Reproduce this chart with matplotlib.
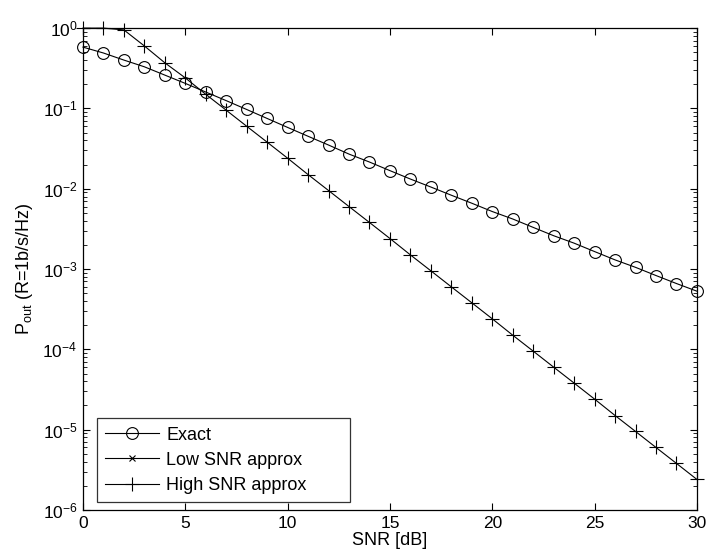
import numpy as np
import matplotlib
matplotlib.use("Agg")
import matplotlib.pyplot as plt
from matplotlib.ticker import LogLocator, FixedLocator

plt.rcParams['font.family'] = ['Liberation Sans', 'DejaVu Sans']
plt.rcParams['mathtext.fontset'] = 'custom'
plt.rcParams['mathtext.rm'] = 'Liberation Sans'
plt.rcParams['mathtext.it'] = 'Liberation Sans:italic'
plt.rcParams['mathtext.bf'] = 'Liberation Sans:bold'

snr_db = list(range(0, 31))
exact = [0.58, 0.49, 0.40, 0.33, 0.26, 0.205, 0.16, 0.125, 0.097, 0.075,
         0.058, 0.045, 0.035, 0.027, 0.0215, 0.0168, 0.0132, 0.0105, 0.0083,
         0.0066, 0.0052, 0.0042, 0.0033, 0.0026, 0.0021, 0.00165, 0.0013,
         0.00105, 0.00083, 0.00066, 0.00053]
low_snr_x = []
low_snr = []
high_snr = [1.0, 1.0, 0.95, 0.6, 0.37, 0.24, 0.15, 0.095, 0.06, 0.038,
            0.024, 0.015, 0.0095, 0.006, 0.0038, 0.0024, 0.0015, 0.00095,
            0.0006, 0.00038, 0.00024, 0.00015, 9.5e-5, 6.0e-5, 3.8e-5,
            2.4e-5, 1.5e-5, 9.5e-6, 6.0e-6, 3.8e-6, 2.4e-6]

fig = plt.figure(figsize=(7.09, 5.59), dpi=100)
ax = fig.add_axes([0.117, 0.0877, 0.866, 0.862])

fs = 13
lw = 0.8
ax.semilogy(snr_db, exact, color='black', lw=lw, marker='o', markersize=8.5,
            markerfacecolor='none', markeredgewidth=0.8, label='Exact', clip_on=False)
ax.semilogy(low_snr_x, low_snr, color='black', lw=lw, marker='x', markersize=4,
            markeredgewidth=0.8, label='Low SNR approx')
ax.semilogy(snr_db, high_snr, color='black', lw=lw, marker='+', markersize=9.5,
            markeredgewidth=0.8, label='High SNR approx', clip_on=False)

ax.set_xlim(0, 30)
ax.set_ylim(1e-6, 1)
ax.xaxis.set_major_locator(FixedLocator([0, 5, 10, 15, 20, 25, 30]))
ax.yaxis.set_major_locator(LogLocator(base=10, numticks=10))
ax.yaxis.set_minor_locator(LogLocator(base=10, subs=np.arange(2, 10), numticks=10))

ax.tick_params(which='both', direction='in', top=True, right=True, labelsize=12.5)
ax.tick_params(which='major', length=5, width=0.8, pad=4)
ax.tick_params(which='minor', length=3, width=0.6)
for s in ax.spines.values():
    s.set_linewidth(0.9)

ax.set_xlabel('SNR [dB]', fontsize=fs, labelpad=1)
ax.set_ylabel(r'P$_{\mathrm{out}}$ (R=1b/s/Hz)', fontsize=fs, labelpad=5)

leg = ax.legend(loc='lower left', bbox_to_anchor=(0.0228, 0.0166, 0.412, 0.176),
                mode='expand', fontsize=fs,
                frameon=True, fancybox=False, edgecolor='black', handlelength=3.0,
                borderpad=0.45, labelspacing=0.45, handletextpad=0.4, borderaxespad=0)
leg.get_frame().set_linewidth(0.9)

fig.savefig('out.png', dpi=100)
